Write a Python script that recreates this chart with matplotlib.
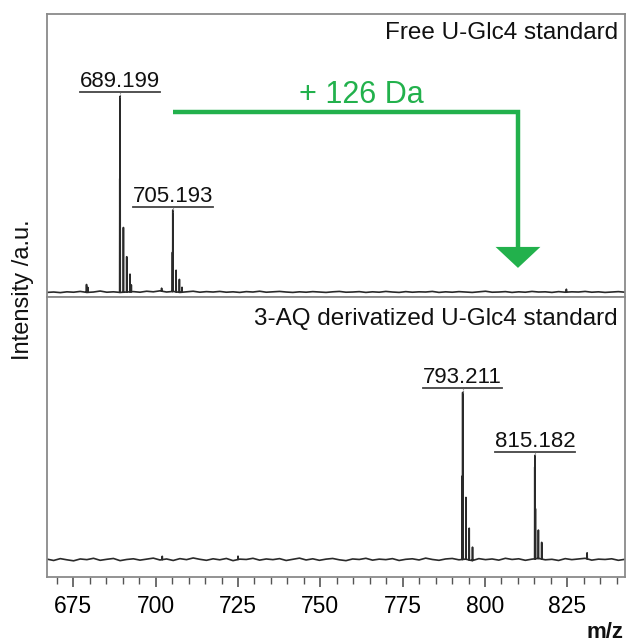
import numpy as np
import matplotlib
matplotlib.use("Agg")
import matplotlib.pyplot as plt
from matplotlib.ticker import MultipleLocator

plt.rcParams['font.family'] = ['Liberation Sans', 'DejaVu Sans']

# ---------------- data ----------------
mz_range = (667.0, 842.5)

# top panel: free U-Glc4 standard (intensity, main peak = 100)
top_peak_mz = [679.0, 679.4, 689.1, 689.199, 690.2, 691.2, 692.2, 692.6,
               701.8, 705.1, 705.193, 706.2, 707.2, 708.0, 824.7]
top_peak_int = [4.0, 2.5, 58.0, 100.0, 33.0, 18.0, 9.0, 3.5,
                1.5, 20.0, 41.5, 11.0, 6.6, 2.5, 1.5]
top_noise = [0.3, 0.5, 0.2, 0.6, 0.4, 0.8, 0.3, 0.5, 1.0, 0.4, 0.6, 0.3,
             0.5, 0.7, 0.4, 0.9, 0.6, 1.1, 0.5, 0.8, 0.3, 0.6, 0.9, 0.4,
             0.7, 0.5, 0.8, 0.4, 0.6, 0.3, 0.7, 0.5, 0.9, 0.4, 0.6, 0.8,
             0.5, 0.3, 0.6, 0.4, 0.7, 0.5, 0.3, 0.6, 0.8, 0.4, 0.5, 0.7,
             0.3, 0.6, 0.4, 0.8, 0.5, 0.3, 0.7, 0.4, 0.6, 0.5, 0.8, 0.3,
             0.6, 0.4, 0.7, 0.5, 0.3, 0.6, 0.9, 0.4, 0.5, 0.7, 0.3, 0.6,
             0.4, 0.8, 0.5, 0.6, 0.3, 0.7, 0.4, 0.6, 0.5, 0.8, 0.4, 0.6,
             0.3, 0.5, 0.7, 0.4]

# bottom panel: 3-AQ derivatized U-Glc4 standard (main peak = 100)
bot_peak_mz = [702.0, 725.0, 793.1, 793.211, 794.2, 795.2, 796.2,
               815.1, 815.182, 815.3, 816.2, 817.2, 831.0]
bot_peak_int = [2.0, 2.0, 50.0, 100.0, 37.0, 19.0, 8.0,
                55.0, 62.0, 30.0, 17.0, 10.0, 3.6]
bot_noise = [0.5, -0.3, 0.8, 0.1, -0.5, 0.6, 0.2, 1.0, -0.2, 0.4, 0.9, -0.4,
             0.3, 0.7, -0.1, 0.5, 1.1, 0.0, 0.6, -0.3, 0.8, 0.2, 1.2, 0.4,
             -0.2, 0.7, 0.1, 0.9, -0.4, 0.5, 0.3, 1.0, -0.1, 0.6, 0.2, 0.8,
             -0.3, 0.4, 1.1, 0.0, 0.7, -0.2, 0.5, 0.9, 0.1, -0.4, 0.6, 0.3,
             1.0, -0.1, 0.5, 0.2, 0.8, -0.3, 0.4, 0.7, 0.0, 1.1, 0.3, -0.2,
             0.6, 0.9, 0.1, 0.5, -0.4, 0.8, 0.2, 0.6, -0.1, 1.0, 0.3, 0.7,
             -0.2, 0.5, 0.9, 0.1, 0.4, -0.3, 0.8, 0.2, 0.6, 1.0, -0.1, 0.5,
             0.3, 0.7, -0.2, 0.4]

top_labels = [(689.199, "689.199"), (705.193, "705.193")]
bot_labels = [(793.211, "793.211"), (815.182, "815.182")]
top_title = "Free U-Glc4 standard"
bot_title = "3-AQ derivatized U-Glc4 standard"
shift_text = "+ 126 Da"
shift_start, shift_end = 705.193, 810.0

xticks_major = [675, 700, 725, 750, 775, 800, 825]


def build_profile(noise, pk_mz, pk_int, half_width=0.045):
    nx = np.linspace(mz_range[0], mz_range[1], len(noise))
    extra = []
    for m in pk_mz:
        extra += [m - half_width, m, m + half_width]
    x = np.sort(np.concatenate([nx, np.array(extra)]))
    base = np.interp(x, nx, noise)
    peaks = np.zeros_like(x)
    for m, h in zip(pk_mz, pk_int):
        peaks = np.maximum(peaks, h * np.clip(1 - np.abs(x - m) / half_width, 0, None))
    return x, base + peaks


fig = plt.figure(figsize=(6.27, 6.42), dpi=100)
L, R = 47 / 627, 625 / 627
ax1 = fig.add_axes([L, 1 - 297 / 642, R - L, (297 - 14) / 642])
ax2 = fig.add_axes([L, 1 - 577 / 642, R - L, (577 - 297) / 642])

spine_col = "#8a8a8a"
line_col = "#2a2a2a"
green = "#22b14c"

for ax in (ax1, ax2):
    ax.set_xlim(*mz_range)
    for s in ax.spines.values():
        s.set_color(spine_col)
        s.set_linewidth(1.3)
    ax.set_yticks([])

ax1.set_ylim(-2.04, 142.3)
ax2.set_ylim(-10.2, 157.5)

x1, y1 = build_profile(top_noise, top_peak_mz, top_peak_int)
x2, y2 = build_profile(bot_noise, bot_peak_mz, bot_peak_int)
ax1.plot(x1, y1, color=line_col, lw=1.2)
ax2.plot(x2, y2, color=line_col, lw=1.2)

ax1.set_xticks([])
ax2.xaxis.set_major_locator(MultipleLocator(25))
ax2.xaxis.set_minor_locator(MultipleLocator(5))
ax2.set_xticks(xticks_major)
ax2.tick_params(axis='x', which='major', length=7, width=1.2, color="#555555",
                labelsize=16.5, pad=6)
ax2.tick_params(axis='x', which='minor', length=5, width=1.0, color="#555555")

ax1.text(0.988, 0.912, top_title, transform=ax1.transAxes, ha='right',
         va='baseline', fontsize=17.5, color="#111111")
ax2.text(0.988, 0.900, bot_title, transform=ax2.transAxes, ha='right',
         va='baseline', fontsize=17.5, color="#111111")

# peak labels
label_texts = []
for ax, labels, pm, pi in ((ax1, top_labels, top_peak_mz, top_peak_int),
                           (ax2, bot_labels, bot_peak_mz, bot_peak_int)):
    for m, s in labels:
        h = pi[pm.index(m)]
        t = ax.annotate(s, xy=(m, h), xytext=(0, 7), textcoords='offset points',
                        ha='center', va='baseline', fontsize=16, color="#111111")
        label_texts.append((ax, t, m, h))

# shift arrow
ax1.plot([shift_start, shift_end, shift_end], [92.3, 92.3, 22.0],
         color=green, lw=3.2, solid_joinstyle='miter', solid_capstyle='butt')
ax1.fill([shift_end - 6.8, shift_end + 6.8, shift_end], [23.5, 23.5, 12.8],
         color=green, lw=0)
ax1.text(762.4, 96.8, shift_text, ha='center', va='baseline', fontsize=22,
         color=green)

fig.text(23 / 627, 1 - 290 / 642, "Intensity /a.u.", rotation=90, ha='center',
         va='center', fontsize=17, color="#111111")
fig.text(623 / 627, 1 - 638 / 642, "m/z", ha='right', va='baseline',
         fontsize=16, fontweight='bold', color="#111111")

# underline and connector for the peak labels
fig.canvas.draw()
renderer = fig.canvas.get_renderer()
for ax, t, m, h in label_texts:
    bb = t.get_window_extent(renderer)
    inv = ax.transData.inverted()
    (ux0, uy), (ux1, _) = inv.transform([[bb.x0, bb.y0], [bb.x1, bb.y0]])
    ax.plot([ux0, ux1], [uy, uy], color="#444444", lw=1.3)
    ax.plot([m, m], [uy, h], color="#666666", lw=0.8, ls=(0, (1, 1)))

fig.savefig("out.png", dpi=100)
